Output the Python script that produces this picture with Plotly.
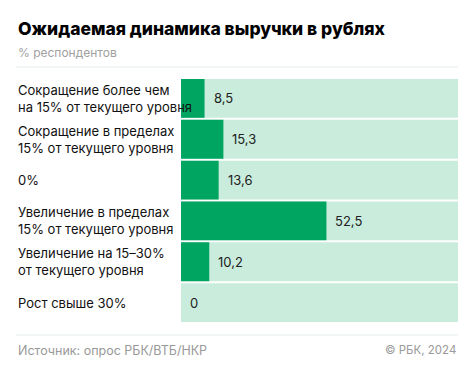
import plotly.graph_objects as go

categories = [
    "Сокращение более чем<br>на 15% от текущего уровня",
    "Сокращение в пределах<br>15% от текущего уровня",
    "0%",
    "Увеличение в пределах<br>15% от текущего уровня",
    "Увеличение на 15–30%<br>от текущего уровня",
    "Рост свыше 30%",
]
values = [8.5, 15.3, 13.6, 52.5, 10.2, 0]
value_labels = ["8,5", "15,3", "13,6", "52,5", "10,2", "0"]
full = [100] * len(categories)

W, H = 474, 372
L, R, T, B = 181, 16, 78, 49
pw = W - L - R
ph = H - T - B
FONT = "Inter, Roboto, sans-serif"

fig = go.Figure()
fig.add_trace(go.Bar(y=categories, x=full, orientation="h", marker_color="#c9ecdc",
                     marker_line_width=0, hoverinfo="skip"))
fig.add_trace(go.Bar(y=categories, x=values, orientation="h", marker_color="#00a562",
                     marker_line_width=0))

ann = []
for c, v, t in zip(categories, values, value_labels):
    ann.append(dict(x=v, y=c, xref="x", yref="y", text=t, showarrow=False,
                    xanchor="left", xshift=7, font=dict(size=13, color="#222", family=FONT)))
    ann.append(dict(x=(16 - L) / pw, y=c, xref="paper", yref="y", text=c, showarrow=False,
                    xanchor="left", align="left", font=dict(size=13, color="#111", family=FONT)))

ann.append(dict(x=(16 - L) / pw, y=1 + (T - 28) / ph, xref="paper", yref="paper",
                text="Ожидаемая динамика выручки в рублях", showarrow=False,
                xanchor="left", yanchor="middle",
                font=dict(size=17.5, color="#000", family=FONT, weight=800)))
ann.append(dict(x=(16 - L) / pw, y=1 + (T - 52) / ph, xref="paper", yref="paper",
                text="% респондентов", showarrow=False,
                xanchor="left", yanchor="middle", font=dict(size=12, color="#a0a0a0", family=FONT)))
ann.append(dict(x=(16 - L) / pw, y=-(350 - (H - B)) / ph, xref="paper", yref="paper",
                text="Источник: опрос РБК/ВТБ/НКР", showarrow=False,
                xanchor="left", yanchor="middle", font=dict(size=12.5, color="#999", family=FONT)))
ann.append(dict(x=1, y=-(350 - (H - B)) / ph, xref="paper", yref="paper",
                text="© РБК, 2024", showarrow=False,
                xanchor="right", yanchor="middle", font=dict(size=11.5, color="#999", family=FONT)))

shapes = [
    dict(type="line", xref="paper", yref="paper", x0=(16 - L) / pw, x1=1,
         y0=1 + (T - 67) / ph, y1=1 + (T - 67) / ph,
         line=dict(color="#e6ecec", width=1)),
    dict(type="line", xref="paper", yref="paper", x0=(16 - L) / pw, x1=1,
         y0=-(335 - (H - B)) / ph, y1=-(335 - (H - B)) / ph,
         line=dict(color="#e6ecec", width=1)),
]

fig.update_layout(
    width=W, height=H, margin=dict(l=L, r=R, t=T, b=B),
    barmode="overlay", bargap=0.05, showlegend=False,
    plot_bgcolor="white", paper_bgcolor="white",
    xaxis=dict(range=[0, 100], visible=False, fixedrange=True),
    yaxis=dict(autorange="reversed", showticklabels=False, showgrid=False,
               zeroline=False, fixedrange=True),
    annotations=ann, shapes=shapes,
)
fig.write_html("out.html", config={"displayModeBar": False})
